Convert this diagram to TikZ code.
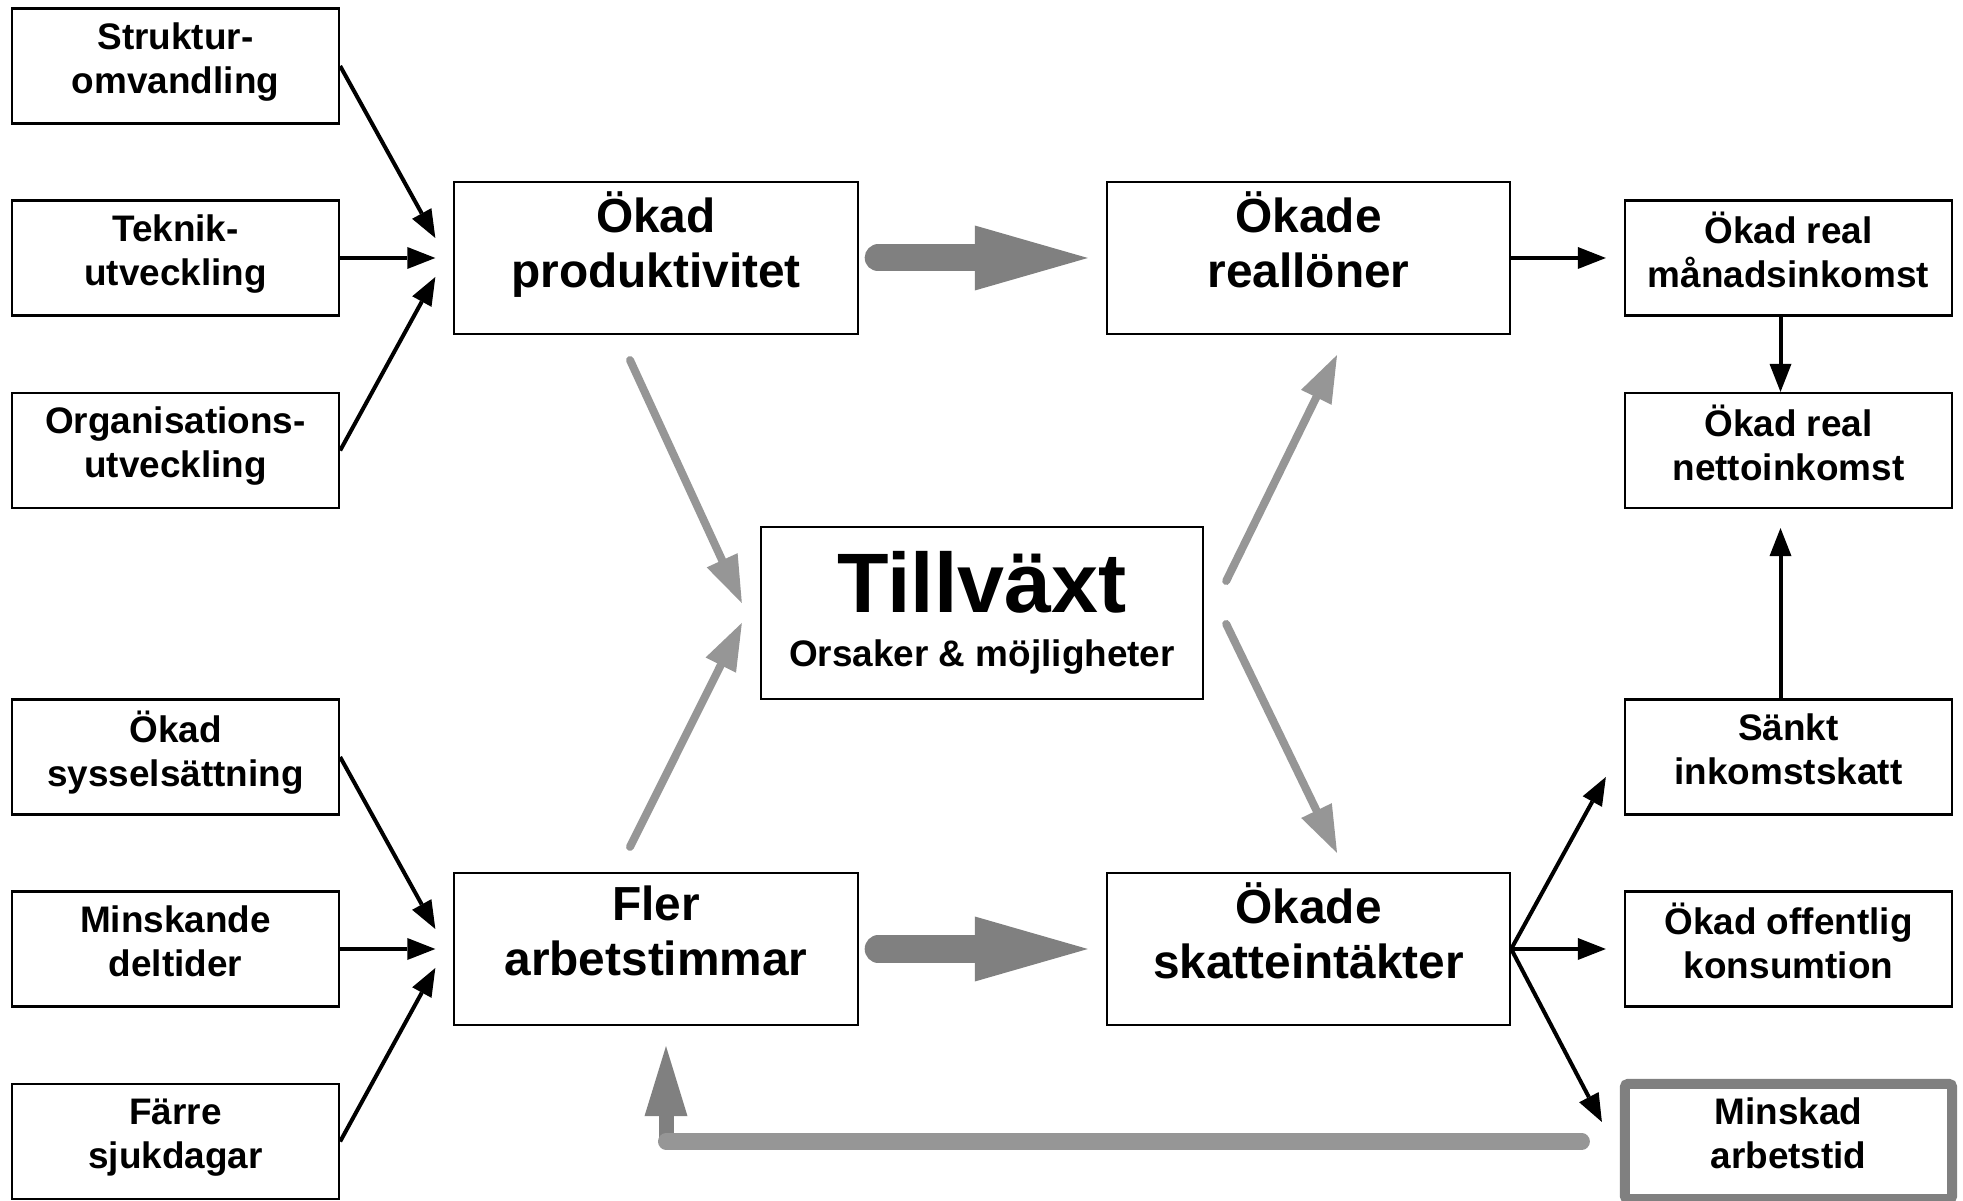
\documentclass[tikz,border=0pt]{standalone}
\usepackage{fontspec}
\setmainfont{Liberation Sans}
\usetikzlibrary{arrows.meta}

\definecolor{darkgrey}{gray}{0.5}
\definecolor{lightgrey}{gray}{0.59}

\begin{document}
\begin{tikzpicture}[x=0.01cm, y=-0.01cm,
  smallbox/.style={draw, line width=0.6pt, minimum width=3.27cm, minimum height=1.15cm, align=center, inner sep=0pt, text depth=4.6pt, font=\fontsize{10.5}{12.5}\selectfont\bfseries},
  bigbox/.style={smallbox, minimum width=4.03cm, minimum height=1.52cm, text depth=10.3pt, font=\fontsize{13.6}{15.6}\selectfont\bfseries},
  blackarrow/.style={line width=0.04cm, -{Triangle[length=0.28cm, width=0.22cm, line width=0pt]}},
  greyarrow/.style={lightgrey, line width=0.08cm, line cap=round, -{Triangle[length=0.47cm, width=0.34cm, line width=0pt]}},
  bigarrow/.style={darkgrey, line width=0.27cm, line cap=round, -{Triangle[length=1.13cm, width=0.65cm, line width=0pt]}}]

\useasboundingbox (0,0) rectangle (1963,1201);

% causes, left column
\node[smallbox] (struktur) at (175.5,66) {Struktur-\\omvandling};
\node[smallbox] (teknik) at (175.5,258) {Teknik-\\utveckling};
\node[smallbox] (org) at (175.5,450.5) {Organisations-\\utveckling};
\node[smallbox] (syssel) at (175.5,757) {Ökad\\sysselsättning};
\node[smallbox] (deltid) at (175.5,949) {Minskande\\deltider};
\node[smallbox] (sjuk) at (175.5,1141.5) {Färre\\sjukdagar};

% middle
\node[bigbox] (prod) at (656,258) {Ökad\\produktivitet};
\node[bigbox] (timmar) at (656,949) {Fler\\arbetstimmar};
\node[bigbox] (lon) at (1308.5,258) {Ökade\\reallöner};
\node[bigbox] (skatt) at (1308.5,949) {Ökade\\skatteintäkter};
\node[bigbox, minimum width=4.42cm, minimum height=1.72cm, text depth=2.2pt, font=\fontsize{10.5}{15.3}\selectfont\bfseries] (tillvaxt) at (982,613) {{\fontsize{24}{15.3}\selectfont Tillväxt}\\Orsaker \& möjligheter};

% effects, right column
\node[smallbox] (manad) at (1788.5,258) {Ökad real\\månadsinkomst};
\node[smallbox] (netto) at (1788.5,450.5) {Ökad real\\nettoinkomst};
\node[smallbox] (sankt) at (1788.5,757) {Sänkt\\inkomstskatt};
\node[smallbox] (offentlig) at (1788.5,949) {Ökad offentlig\\konsumtion};
\node[smallbox, draw=darkgrey, line width=0.1cm, rounded corners=0.03cm] (arbetstid) at (1788.5,1141.5) {Minskad\\arbetstid};

\draw[blackarrow] (struktur.east) -- ([shift={(-18,-20)}]prod.west);
\draw[blackarrow, shorten >=0.18cm] (teknik) -- (prod);
\draw[blackarrow] (org.east) -- ([shift={(-18,19)}]prod.west);
\draw[blackarrow] (syssel.east) -- ([shift={(-18,-20)}]timmar.west);
\draw[blackarrow, shorten >=0.18cm] (deltid) -- (timmar);
\draw[blackarrow] (sjuk.east) -- ([shift={(-18,19)}]timmar.west);

\draw[bigarrow, shorten <=0.195cm, shorten >=0.18cm] (prod) -- (lon);
\draw[bigarrow, shorten <=0.195cm, shorten >=0.18cm] (timmar) -- (skatt);

\draw[greyarrow] ([shift={(-26,25)}]prod.south) -- ([shift={(-18,-10)}]tillvaxt.west);
\draw[greyarrow] ([shift={(-26,-25)}]timmar.north) -- ([shift={(-18,10)}]tillvaxt.west);
\draw[greyarrow] ([shift={(22,-32)}]tillvaxt.east) -- ([shift={(28.5,20)}]lon.south);
\draw[greyarrow] ([shift={(22,11)}]tillvaxt.east) -- ([shift={(28.5,-19)}]skatt.north);

\draw[blackarrow, shorten >=0.18cm] (lon) -- (manad);
\draw[blackarrow] ([shift={(-8,0)}]manad.south) -- ([shift={(-8,0)}]netto.north);
\draw[blackarrow] ([shift={(-8,0)}]sankt.north) -- ([shift={(-8,19)}]netto.south);
\draw[blackarrow] (skatt.east) -- ([shift={(-18,20)}]sankt.west);
\draw[blackarrow, shorten >=0.18cm] (skatt) -- (offentlig);
\draw[blackarrow] (skatt.east) -- ([shift={(-18,-19.5)}]arbetstid.west);

% feedback
\coordinate (fbtip) at ([shift={(10,20)}]timmar.south);
\coordinate (fbstart) at ([shift={(-38,0)}]arbetstid.west);
\draw[darkgrey, line width=0.15cm, -{Triangle[length=0.7cm, width=0.43cm, line width=0pt]}] (fbtip |- fbstart) -- (fbtip);
\draw[lightgrey, line width=0.16cm, line cap=round] (fbstart) -- (fbtip |- fbstart);

\end{tikzpicture}
\end{document}
